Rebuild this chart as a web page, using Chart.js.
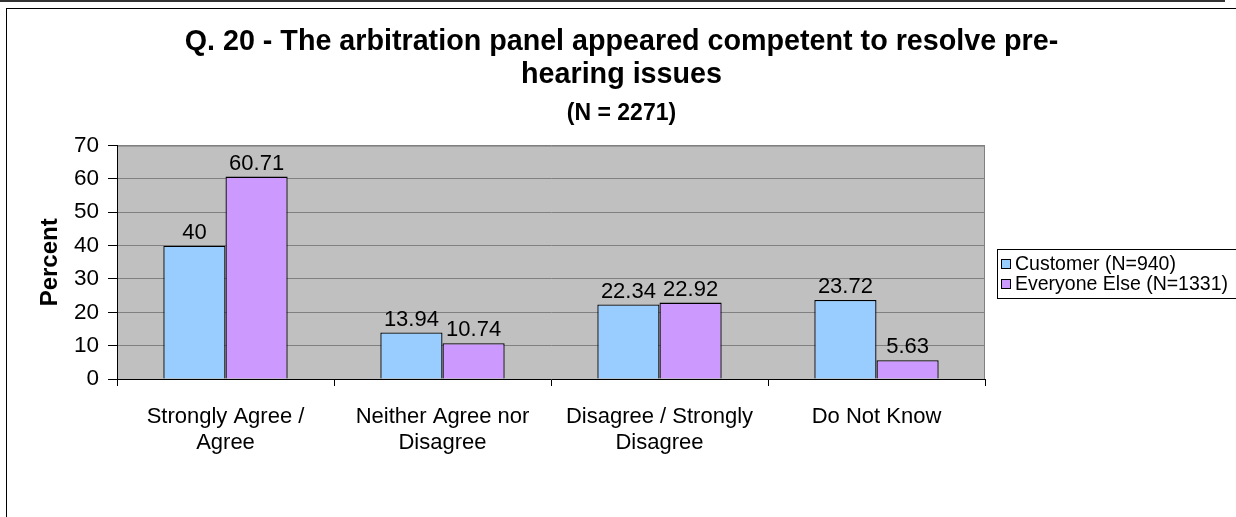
<!DOCTYPE html>
<html>
<head>
<meta charset="utf-8">
<script src="https://cdn.jsdelivr.net/npm/chart.js@4.4.1/dist/chart.umd.min.js"></script>
<style>
    html, body { margin: 0; padding: 0; background: #fff; }
    body { width: 1236px; height: 517px; position: relative; overflow: hidden; }
    #topRule { position: absolute; left: 0; top: 0; width: 1225px; height: 2px; background: #333; }
    #frame { position: absolute; left: 6px; top: 8px; width: 1240px; height: 520px; border-left: 1px solid #000; border-top: 1px solid #000; }
    #chart { position: absolute; left: 7px; top: 9px; }
</style>
</head>
<body>
<div id="topRule"></div>
<div id="frame"></div>
<canvas id="chart" width="1229" height="508"></canvas>
<script>
// Chart data
const categories = [
    ['Strongly Agree /', 'Agree'],
    ['Neither Agree nor', 'Disagree'],
    ['Disagree / Strongly', 'Disagree'],
    ['Do Not Know']
];
const seriesNames = ['Customer (N=940)', 'Everyone Else (N=1331)'];
const customerValues = [40, 13.94, 22.34, 23.72];
const everyoneElseValues = [60.71, 10.74, 22.92, 5.63];
const titleLines = ['Q. 20 - The arbitration panel appeared competent to resolve pre-', 'hearing issues'];
const subtitleText = '(N = 2271)';
const yAxisLabel = 'Percent';
const yMin = 0, yMax = 70, yStep = 10;

const seriesColors = ['#99ccff', '#cc99ff'];
const fontFamily = '"Liberation Sans", Arial, Helvetica, sans-serif';

Chart.defaults.font.family = fontFamily;
Chart.defaults.color = '#000';

// Grey plot area with grey top / right edge
const plotBackground = {
    id: 'plotBackground',
    beforeDraw(chart) {
        const { ctx, chartArea: a } = chart;
        ctx.save();
        ctx.fillStyle = '#c0c0c0';
        ctx.fillRect(a.left, a.top, a.right - a.left, a.bottom - a.top);
        ctx.strokeStyle = '#808080';
        ctx.lineWidth = 1;
        ctx.beginPath();
        ctx.moveTo(a.left, a.top + 0.5);
        ctx.lineTo(a.right - 0.5, a.top + 0.5);
        ctx.lineTo(a.right - 0.5, a.bottom);
        ctx.stroke();
        ctx.restore();
    }
};

// Value labels above bars
const valueLabels = {
    id: 'valueLabels',
    afterDatasetsDraw(chart) {
        const ctx = chart.ctx;
        ctx.save();
        ctx.font = '22px ' + fontFamily;
        ctx.fillStyle = '#000';
        ctx.textAlign = 'center';
        ctx.textBaseline = 'alphabetic';
        chart.data.datasets.forEach((ds, i) => {
            chart.getDatasetMeta(i).data.forEach((bar, j) => {
                ctx.fillText(String(ds.data[j]), bar.x, bar.y - 7);
            });
        });
        ctx.restore();
    }
};

// Boxed legend on the right
const boxLegend = {
    id: 'boxLegend',
    afterDraw(chart) {
        const { ctx, chartArea: a } = chart;
        const left = a.right + 12;
        const top = 240;
        const rowH = 20;
        ctx.save();
        ctx.fillStyle = '#fff';
        ctx.strokeStyle = '#000';
        ctx.lineWidth = 1;
        ctx.fillRect(left, top, chart.width - left + 5, rowH * 2 + 9);
        ctx.strokeRect(left + 0.5, top + 0.5, chart.width - left + 5, rowH * 2 + 9);
        ctx.font = '19.5px ' + fontFamily;
        ctx.textBaseline = 'middle';
        chart.data.datasets.forEach((ds, i) => {
            const cy = top + 15 + i * rowH;
            ctx.fillStyle = ds.backgroundColor;
            ctx.fillRect(left + 4.5, cy - 4.5, 9, 9);
            ctx.strokeRect(left + 4.5, cy - 4.5, 9, 9);
            ctx.fillStyle = '#000';
            ctx.fillText(ds.label, left + 18, cy + 1);
        });
        ctx.restore();
    }
};

const ctx = document.getElementById('chart').getContext('2d');
const chart = new Chart(ctx, {
    type: 'bar',
    data: {
        labels: categories,
        datasets: [{
            label: seriesNames[0],
            data: customerValues,
            backgroundColor: seriesColors[0],
            borderColor: '#000',
            borderWidth: 1.3,
            categoryPercentage: 0.573,
            barPercentage: 1
        }, {
            label: seriesNames[1],
            data: everyoneElseValues,
            backgroundColor: seriesColors[1],
            borderColor: '#000',
            borderWidth: 1.3,
            categoryPercentage: 0.573,
            barPercentage: 1
        }]
    },
    options: {
        responsive: false,
        animation: false,
        devicePixelRatio: 1,
        layout: { padding: 0 },
        plugins: {
            legend: { display: false },
            tooltip: { enabled: false },
            title: {
                display: true,
                text: titleLines,
                color: '#000',
                font: { size: 28.7, weight: 'bold', lineHeight: 1.15 },
                padding: { top: 17, bottom: 0 }
            },
            subtitle: {
                display: true,
                text: subtitleText,
                color: '#000',
                font: { size: 23, weight: 'bold', lineHeight: 1.2 },
                padding: { top: 8, bottom: 18 }
            }
        },
        scales: {
            x: {
                grid: {
                    display: true,
                    drawOnChartArea: false,
                    offset: true,
                    tickLength: 7,
                    tickColor: '#000'
                },
                border: { color: '#000', z: 1 },
                ticks: {
                    font: { size: 22, lineHeight: 1.18 },
                    color: '#000',
                    padding: 18,
                    maxRotation: 0,
                    autoSkip: false
                },
                afterFit(scale) { scale.height = 138; }
            },
            y: {
                min: yMin,
                max: yMax,
                ticks: {
                    stepSize: yStep,
                    font: { size: 22.5 },
                    color: '#000',
                    padding: 9
                },
                grid: {
                    color: c => (c.tick && c.tick.value === 0) ? 'rgba(0,0,0,0)' : '#808080',
                    tickColor: '#000',
                    tickLength: 9
                },
                border: { color: '#000' },
                title: {
                    display: true,
                    text: yAxisLabel,
                    color: '#000',
                    font: { size: 24, weight: 'bold' },
                    padding: { top: 29, bottom: 0 }
                },
                afterFit(scale) { scale.width = 110; }
            },
            legendSpace: {
                type: 'linear',
                position: 'right',
                display: true,
                grid: { display: false, drawOnChartArea: false },
                ticks: { display: false },
                border: { display: false },
                afterFit(scale) { scale.width = 251; }
            }
        }
    },
    plugins: [plotBackground, valueLabels, boxLegend]
});
</script>
</body>
</html>
